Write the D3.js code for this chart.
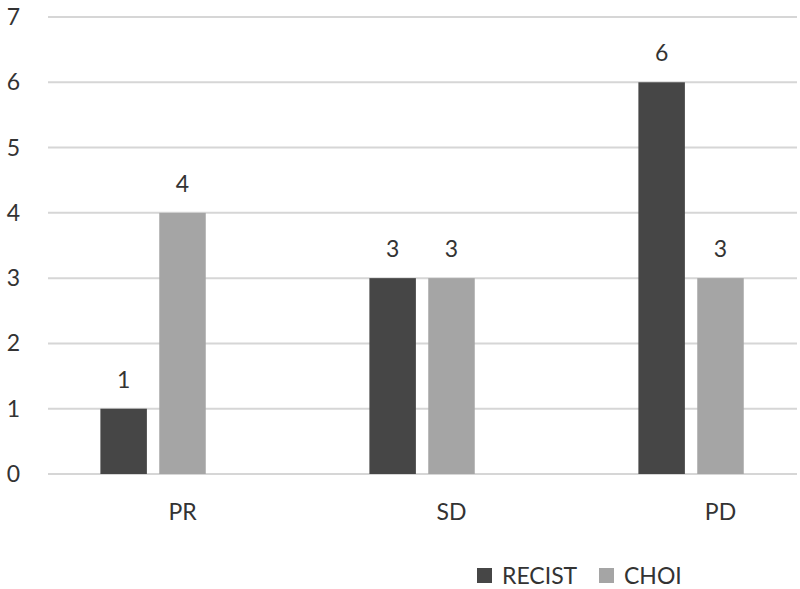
<!DOCTYPE html>
<meta charset="utf-8">
<head>
    <script src="https://d3js.org/d3.v7.min.js"></script>
</head>
<style>
    body { margin: 0; background: #fff; }
    text { font-family: Lato, 'Open Sans', sans-serif; fill: #333333; }
</style>
<div id="my_dataviz"></div>
<script>

    // data
    var categories = ["PR", "SD", "PD"];
    var recist = [1, 3, 6];
    var choi = [4, 3, 3];
    var seriesNames = ["RECIST", "CHOI"];
    var seriesColors = ["#464646", "#a5a5a5"];
    var yTicks = [0, 1, 2, 3, 4, 5, 6, 7];

    var width = 800, height = 589;

    var svg = d3.select("#my_dataviz")
        .append("svg")
        .attr("width", width)
        .attr("height", height);

    // the source image is cut on the right, so the band range runs past the edge
    var x0 = d3.scaleBand()
        .domain(categories)
        .range([48, 855]);

    // third slot stays empty (bar groups sit left of the category label)
    var x1 = d3.scaleBand()
        .domain(["RECIST", "CHOI", "empty"])
        .range([0, x0.bandwidth()])
        .paddingInner(0.21)
        .paddingOuter(0.89);

    var y = d3.scaleLinear()
        .domain([0, 7])
        .range([474, 17]);

    // gridlines
    svg.append("g")
        .selectAll("line")
        .data(yTicks)
        .enter()
        .append("line")
        .attr("x1", 48)
        .attr("x2", 797)
        .attr("y1", function(d) { return y(d); })
        .attr("y2", function(d) { return y(d); })
        .style("stroke", "#d6d6d6")
        .style("stroke-width", 2);

    // y tick labels
    svg.append("g")
        .selectAll("text")
        .data(yTicks)
        .enter()
        .append("text")
        .attr("x", 20)
        .attr("y", function(d) { return y(d) + 8; })
        .attr("text-anchor", "end")
        .style("font-size", "23px")
        .text(function(d) { return d; });

    // category labels
    svg.append("g")
        .selectAll("text")
        .data(categories)
        .enter()
        .append("text")
        .attr("x", function(d) { return x0(d) + x0.bandwidth() / 2; })
        .attr("y", 520)
        .attr("text-anchor", "middle")
        .style("font-size", "23px")
        .text(function(d) { return d; });

    var rows = [];
    categories.forEach(function(c, i) {
        rows.push({cat: c, series: "RECIST", value: recist[i], color: seriesColors[0]});
        rows.push({cat: c, series: "CHOI", value: choi[i], color: seriesColors[1]});
    });

    // bars
    svg.append("g")
        .selectAll("rect")
        .data(rows)
        .enter()
        .append("rect")
        .attr("x", function(d) { return x0(d.cat) + x1(d.series); })
        .attr("y", function(d) { return y(d.value); })
        .attr("width", x1.bandwidth())
        .attr("height", function(d) { return y(0) - y(d.value); })
        .style("fill", function(d) { return d.color; });

    // value labels
    svg.append("g")
        .selectAll("text")
        .data(rows)
        .enter()
        .append("text")
        .attr("x", function(d) { return x0(d.cat) + x1(d.series) + x1.bandwidth() / 2; })
        .attr("y", function(d) { return y(d.value) - 21; })
        .attr("text-anchor", "middle")
        .style("font-size", "23px")
        .text(function(d) { return d.value; });

    // legend
    var legendX = [477, 599];
    var legend = svg.append("g")
        .selectAll("g")
        .data(seriesNames)
        .enter()
        .append("g")
        .attr("transform", function(d, i) { return "translate(" + legendX[i] + ",568)"; });

    legend.append("rect")
        .attr("width", 15)
        .attr("height", 15)
        .style("fill", function(d, i) { return seriesColors[i]; });

    legend.append("text")
        .attr("x", 25)
        .attr("y", 16)
        .style("font-size", "23px")
        .text(function(d) { return d; });

</script>
